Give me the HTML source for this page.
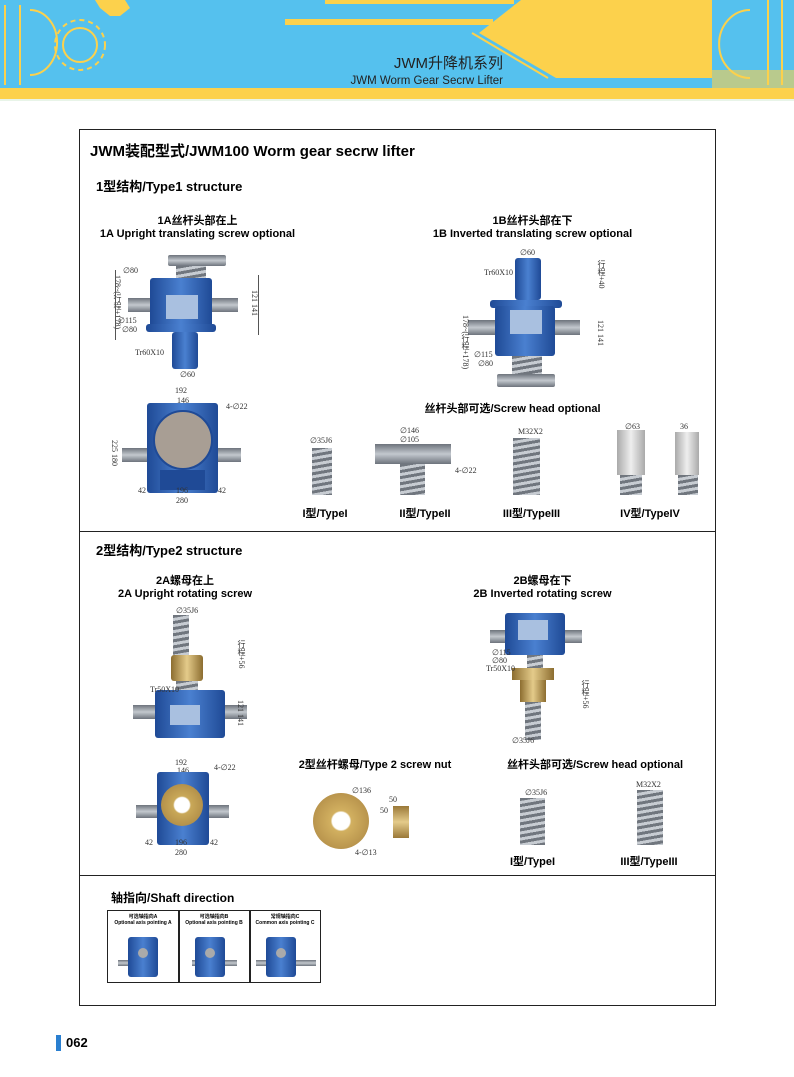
<!DOCTYPE html><html><head><meta charset="utf-8"><style>
body{margin:0;width:794px;height:1077px;position:relative;background:#fff;font-family:"Liberation Sans","Noto Sans CJK SC",sans-serif;overflow:hidden}
div{position:absolute;box-sizing:border-box}
.b{background:linear-gradient(90deg,#1f4a96,#4a80d0 50%,#1f4a96);border-radius:3px}
.p{background:#a9c0e0}
.g{background:linear-gradient(180deg,#6d737c,#c3c8ce 50%,#6d737c)}
.gv{background:repeating-linear-gradient(170deg,#70767e 0 3px,#c7ccd2 3px 6px)}
.br{background:linear-gradient(90deg,#8c6d30,#e4cb8a 50%,#8c6d30)}
.h{font-weight:bold;font-size:14px;color:#000}
.s{font-weight:bold;font-size:11px;text-align:center;white-space:nowrap}
.d{font-family:"Liberation Serif",serif;font-size:8px;color:#333;white-space:nowrap}
.ln{border-color:#555;border-style:solid;border-width:0}
</style></head><body>
<!-- header -->
<svg style="position:absolute;left:0;top:0" width="794" height="101">
<rect width="794" height="101" fill="#55c1ee"/>
<rect x="325" y="0" width="189" height="4" fill="#fcd14c"/>
<rect x="285" y="19" width="208" height="6" fill="#fcd14c"/>
<polygon points="521,0 712,0 712,78 556,78 479,33" fill="#fcd14c"/>
<polyline points="516,5 493,25" stroke="#fcd14c" stroke-width="2" fill="none"/>
<polyline points="472,33 548,78" stroke="#fcd14c" stroke-width="2" fill="none"/>
<rect x="0" y="88" width="794" height="11" fill="#fcd14c"/>
<rect x="0" y="99" width="794" height="2" fill="#e8f4e8"/>
<g fill="none" stroke="#fcd14c" stroke-width="2">
<path d="M5,5 V85 M20,5 V85 M30,10 A25,30 0 0 1 30,75"/>
<circle cx="80" cy="45" r="17"/><circle cx="80" cy="45" r="25" stroke-dasharray="5 4"/>
<path d="M750,10 A30,33 0 0 0 750,78 M782,0 V85 M768,0 V85"/>
</g>
<path d="M95,0 h30 l5,8 -10,8 -10,0 -10,-8z" fill="#fcd14c"/>
<rect x="712" y="70" width="82" height="18" fill="#fcd14c" opacity="0.6"/>
<text x="503" y="68" font-family="Liberation Sans,Noto Sans CJK SC,sans-serif" font-size="15" text-anchor="end" fill="#222">JWM升降机系列</text>
<text x="503" y="84" font-family="Liberation Sans,sans-serif" font-size="11.5" text-anchor="end" fill="#222">JWM Worm  Gear Secrw Lifter</text>
</svg>
<!-- frame -->
<div style="left:79px;top:129px;width:637px;height:877px;border:1px solid #222"></div>
<div style="left:79px;top:531px;width:637px;height:1px;background:#222"></div>
<div style="left:79px;top:875px;width:637px;height:1px;background:#222"></div>
<div class="h" style="left:90px;top:140px;font-size:15px">JWM装配型式/JWM100 Worm gear secrw lifter</div>
<div class="h" style="left:96px;top:176px;font-size:13px">1型结构/Type1 structure</div>
<div class="s" style="left:95px;top:212px;width:205px">1A丝杆头部在上<br>1A Upright translating screw optional</div>
<div class="s" style="left:425px;top:212px;width:215px">1B丝杆头部在下<br>1B Inverted translating screw optional</div>
<!-- 1A side -->
<div class="g" style="left:168px;top:255px;width:58px;height:11px;border-radius:2px"></div>
<div class="gv" style="left:176px;top:266px;width:30px;height:14px"></div>
<div class="g" style="left:128px;top:298px;width:26px;height:14px"></div>
<div class="g" style="left:210px;top:298px;width:28px;height:14px"></div>
<div class="b" style="left:150px;top:278px;width:62px;height:52px"></div>
<div class="p" style="left:166px;top:295px;width:32px;height:24px"></div>
<div class="b" style="left:146px;top:324px;width:70px;height:8px"></div>
<div class="b" style="left:172px;top:332px;width:26px;height:37px"></div>
<div class="d" style="left:123px;top:266px">∅80</div><div class="d" style="left:118px;top:316px">∅115</div><div class="d" style="left:122px;top:325px">∅80</div>
<div class="d" style="left:135px;top:348px">Tr60X10</div><div class="d" style="left:180px;top:370px">∅60</div>
<div class="d" style="left:250px;top:290px;writing-mode:vertical-rl">121 141</div>
<div class="d" style="left:112px;top:275px;writing-mode:vertical-rl">178~(行程+178)</div>
<div class="ln" style="left:115px;top:270px;width:1px;height:70px;border-left-width:1px"></div>
<div class="ln" style="left:258px;top:275px;width:1px;height:60px;border-left-width:1px"></div>
<!-- 1A bottom -->
<div class="d" style="left:175px;top:386px">192</div><div class="d" style="left:177px;top:396px">146</div><div class="d" style="left:226px;top:402px">4-∅22</div>
<div class="g" style="left:122px;top:448px;width:28px;height:14px"></div>
<div class="g" style="left:215px;top:448px;width:26px;height:14px"></div>
<div class="b" style="left:147px;top:403px;width:71px;height:90px"></div>
<div style="left:153px;top:410px;width:60px;height:60px;border-radius:50%;background:#a89e94;border:2px solid #1f4a96"></div>
<div class="p" style="left:160px;top:470px;width:45px;height:20px;background:#1f4a96"></div>
<div class="d" style="left:138px;top:486px">42</div><div class="d" style="left:176px;top:486px">196</div><div class="d" style="left:218px;top:486px">42</div><div class="d" style="left:176px;top:496px">280</div>
<div class="d" style="left:110px;top:440px;writing-mode:vertical-rl">225 180</div>
<!-- 1B -->
<div class="d" style="left:520px;top:248px">∅60</div><div class="d" style="left:484px;top:268px">Tr60X10</div>
<div class="b" style="left:515px;top:258px;width:26px;height:42px"></div>
<div class="g" style="left:468px;top:320px;width:30px;height:15px"></div>
<div class="g" style="left:552px;top:320px;width:28px;height:15px"></div>
<div class="b" style="left:490px;top:300px;width:72px;height:8px"></div>
<div class="b" style="left:495px;top:306px;width:60px;height:50px"></div>
<div class="p" style="left:510px;top:310px;width:32px;height:24px"></div>
<div class="gv" style="left:512px;top:356px;width:30px;height:18px"></div>
<div class="g" style="left:497px;top:374px;width:58px;height:13px;border-radius:2px"></div>
<div class="d" style="left:596px;top:260px;writing-mode:vertical-rl">行程+40</div>
<div class="d" style="left:596px;top:320px;writing-mode:vertical-rl">121 141</div>
<div class="d" style="left:460px;top:315px;writing-mode:vertical-rl">178~(行程+178)</div>
<div class="d" style="left:474px;top:350px">∅115</div><div class="d" style="left:478px;top:359px">∅80</div>
<!-- heads -->
<div class="s" style="left:420px;top:400px;width:185px">丝杆头部可选/Screw head optional</div>
<div class="d" style="left:310px;top:436px">∅35J6</div>
<div class="gv" style="left:312px;top:448px;width:20px;height:47px"></div>
<div class="d" style="left:400px;top:426px">∅146</div><div class="d" style="left:400px;top:435px">∅105</div>
<div class="g" style="left:375px;top:444px;width:76px;height:20px"></div>
<div class="gv" style="left:400px;top:464px;width:25px;height:31px"></div>
<div class="d" style="left:455px;top:466px">4-∅22</div>
<div class="d" style="left:518px;top:427px">M32X2</div>
<div class="gv" style="left:513px;top:438px;width:27px;height:57px"></div>
<div class="d" style="left:625px;top:422px">∅63</div><div class="d" style="left:680px;top:422px">36</div>
<div class="g" style="left:617px;top:430px;width:28px;height:45px;background:linear-gradient(90deg,#aaa,#eee,#aaa)"></div>
<div class="gv" style="left:620px;top:475px;width:22px;height:20px"></div>
<div class="g" style="left:675px;top:432px;width:24px;height:43px;background:linear-gradient(90deg,#aaa,#eee,#aaa)"></div>
<div class="gv" style="left:678px;top:475px;width:20px;height:20px"></div>
<div class="s" style="left:295px;top:505px;width:60px">I型/TypeI</div>
<div class="s" style="left:390px;top:505px;width:70px">II型/TypeII</div>
<div class="s" style="left:494px;top:505px;width:75px">III型/TypeIII</div>
<div class="s" style="left:610px;top:505px;width:80px">IV型/TypeIV</div>
<!-- type 2 -->
<div class="h" style="left:96px;top:540px;font-size:13px">2型结构/Type2 structure</div>
<div class="s" style="left:105px;top:572px;width:160px">2A螺母在上<br>2A Upright rotating screw</div>
<div class="s" style="left:465px;top:572px;width:155px">2B螺母在下<br>2B Inverted rotating screw</div>
<div class="d" style="left:176px;top:606px">∅35J6</div>
<div class="gv" style="left:173px;top:615px;width:16px;height:42px"></div>
<div class="br" style="left:171px;top:655px;width:32px;height:26px;border-radius:3px"></div>
<div class="gv" style="left:176px;top:681px;width:22px;height:10px"></div>
<div class="g" style="left:133px;top:705px;width:25px;height:14px"></div>
<div class="g" style="left:222px;top:705px;width:25px;height:14px"></div>
<div class="b" style="left:155px;top:690px;width:70px;height:48px"></div>
<div class="p" style="left:170px;top:705px;width:30px;height:20px"></div>
<div class="d" style="left:150px;top:685px">Tr50X10</div>
<div class="d" style="left:236px;top:640px;writing-mode:vertical-rl">行程+56</div>
<div class="d" style="left:236px;top:700px;writing-mode:vertical-rl">121 141</div>
<div class="d" style="left:175px;top:758px">192</div><div class="d" style="left:177px;top:766px">146</div><div class="d" style="left:214px;top:763px">4-∅22</div>
<div class="g" style="left:136px;top:805px;width:24px;height:13px"></div>
<div class="g" style="left:205px;top:805px;width:24px;height:13px"></div>
<div class="b" style="left:157px;top:772px;width:52px;height:73px"></div>
<div style="left:161px;top:784px;width:42px;height:42px;border-radius:50%;background:radial-gradient(#fff 25%,#c9a858 30%,#a48040)"></div>
<div class="d" style="left:145px;top:838px">42</div><div class="d" style="left:175px;top:838px">196</div><div class="d" style="left:210px;top:838px">42</div><div class="d" style="left:175px;top:848px">280</div>
<!-- 2B -->
<div class="g" style="left:490px;top:630px;width:20px;height:13px"></div>
<div class="g" style="left:562px;top:630px;width:20px;height:13px"></div>
<div class="b" style="left:505px;top:613px;width:60px;height:42px"></div>
<div class="p" style="left:518px;top:620px;width:30px;height:20px"></div>
<div class="gv" style="left:527px;top:655px;width:16px;height:14px"></div>
<div class="br" style="left:512px;top:668px;width:42px;height:12px"></div>
<div class="br" style="left:520px;top:680px;width:26px;height:22px"></div>
<div class="gv" style="left:525px;top:702px;width:16px;height:38px"></div>
<div class="d" style="left:492px;top:648px">∅115</div><div class="d" style="left:492px;top:656px">∅80</div><div class="d" style="left:486px;top:664px">Tr50X10</div>
<div class="d" style="left:512px;top:736px">∅35J6</div>
<div class="d" style="left:580px;top:680px;writing-mode:vertical-rl">行程+56</div>
<!-- nut -->
<div class="s" style="left:295px;top:756px;width:160px">2型丝杆螺母/Type 2 screw nut</div>
<div style="left:313px;top:793px;width:56px;height:56px;border-radius:50%;background:radial-gradient(#fff 22%,#d2b060 26%,#a88240)"></div>
<div class="br" style="left:393px;top:806px;width:16px;height:32px;background:linear-gradient(180deg,#9a7838,#e4cb8a,#9a7838)"></div>
<div class="d" style="left:352px;top:786px">∅136</div><div class="d" style="left:389px;top:795px">50</div><div class="d" style="left:380px;top:806px">50</div><div class="d" style="left:355px;top:848px">4-∅13</div>
<div class="s" style="left:505px;top:756px;width:180px">丝杆头部可选/Screw head optional</div>
<div class="d" style="left:525px;top:788px">∅35J6</div>
<div class="gv" style="left:520px;top:798px;width:25px;height:47px"></div>
<div class="d" style="left:636px;top:780px">M32X2</div>
<div class="gv" style="left:637px;top:790px;width:26px;height:55px"></div>
<div class="s" style="left:505px;top:853px;width:55px">I型/TypeI</div>
<div class="s" style="left:614px;top:853px;width:70px">III型/TypeIII</div>
<!-- shaft dir -->
<div class="s" style="left:111px;top:889px;font-size:12px">轴指向/Shaft direction</div>
<div style="left:107px;top:910px;width:214px;height:73px;border:1.5px solid #222"></div>
<div style="left:178px;top:910px;width:1.5px;height:73px;background:#222"></div>
<div style="left:249px;top:910px;width:1.5px;height:73px;background:#222"></div>
<div class="s" style="left:108px;top:913px;width:70px;font-size:5px">可选轴指向A<br>Optional axis pointing A</div>
<div class="s" style="left:179px;top:913px;width:70px;font-size:5px">可选轴指向B<br>Optional axis pointing B</div>
<div class="s" style="left:250px;top:913px;width:70px;font-size:5px">常规轴指向C<br>Common axis pointing C</div>
<div class="g" style="left:118px;top:960px;width:40px;height:6px"></div>
<div class="b" style="left:128px;top:937px;width:30px;height:40px"></div>
<div class="g" style="left:192px;top:960px;width:45px;height:6px"></div>
<div class="b" style="left:195px;top:937px;width:30px;height:40px"></div>
<div class="g" style="left:256px;top:960px;width:60px;height:6px"></div>
<div class="b" style="left:266px;top:937px;width:30px;height:40px"></div>
<div style="left:138px;top:948px;width:10px;height:10px;border-radius:50%;background:#aaa"></div>
<div style="left:205px;top:948px;width:10px;height:10px;border-radius:50%;background:#aaa"></div>
<div style="left:276px;top:948px;width:10px;height:10px;border-radius:50%;background:#aaa"></div>
<!-- page no -->
<div style="left:56px;top:1035px;width:5px;height:16px;background:#2a7fd0"></div>
<div style="left:66px;top:1035px;font-weight:bold;font-size:13px">062</div>
</body></html>
